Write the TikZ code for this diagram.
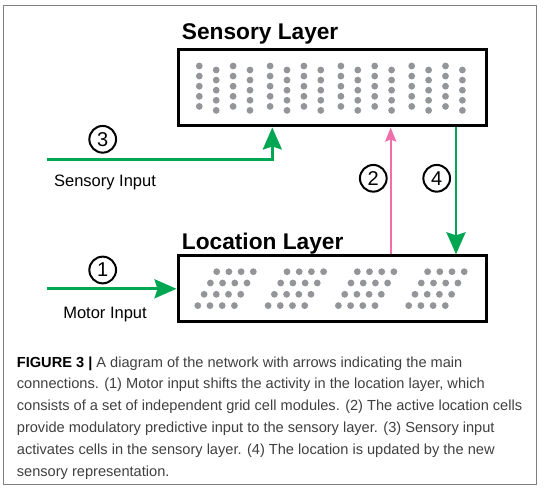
\documentclass[tikz,border=0pt]{standalone}
\usepackage{fontspec}
\setmainfont{Liberation Sans}
\usetikzlibrary{arrows.meta,positioning,calc}
\definecolor{igreen}{RGB}{0,166,81}
\definecolor{ipink}{RGB}{240,110,170}
\definecolor{dotgray}{RGB}{147,149,152}
\definecolor{framegray}{RGB}{128,128,128}
\definecolor{captext}{RGB}{64,64,64}

\begin{document}
\begin{tikzpicture}[x=1pt,y=-1pt,
  layer/.style={draw,line width=3pt,minimum width=308pt,inner sep=0pt},
  title/.style={anchor=base west,inner sep=0pt,font=\fontsize{22.7}{24}\selectfont\bfseries},
  num/.style={circle,draw,line width=2pt,minimum size=26.7pt,inner sep=0pt,font=\fontsize{20}{20}\selectfont},
  inlabel/.style={anchor=base,inner sep=0pt,font=\fontsize{16.5}{18}\selectfont},
  cell/.style={fill=dotgray},
  feed/.style={line width=2.8pt,igreen,-{Stealth[length=22pt,width=19pt,inset=3pt]}},
  predict/.style={line width=2.3pt,ipink,-{Stealth[length=14pt,width=11pt,inset=2pt]}}]
\useasboundingbox (0,0) rectangle (549,500);
\draw[framegray,line width=1pt] (3.5,5.3) rectangle (536,484.3);

% the two layers
\node (sens)[layer,minimum height=76pt] at (332,88) {};
\node (loc)[layer,minimum height=66pt] at (332,288.8) {};
\node (senstitle)[title] at (181.7,40) {Sensory Layer};
\node (loctitle)[title] at (181.7,249.3) {Location Layer};

% cells of the sensory layer
\foreach \g in {0,...,3}
  \foreach \c in {0,...,3}
    \foreach \r in {0,...,4}
      \fill[cell] ({199.3+70.8*\g+16.9*\c},{66+4*mod(\c,2)+10.1*\r}) circle[radius=3.4pt];

% grid cell modules
\foreach \g in {0,...,3}
  \foreach \r in {0,...,3}
    \foreach \c in {0,...,3}
      \fill[cell] ({216.7+70.3*\g-6.3*\r+12.2*\c},{271.7+11.3*\r}) circle[radius=3.4pt];

\coordinate (sinstart) at (46.7,159.3);
\coordinate (minstart) at (46.7,288.8);

\draw [feed] (sinstart) -| ([xshift=-59.7pt]sens.south);
\draw [feed] (minstart) -- (loc.west);
\draw [predict] ([xshift=58.7pt]loc.north) -- ([xshift=58.7pt]sens.south);
\draw [feed] ([xshift=124pt]sens.south) -- ([xshift=124pt]loc.north);

\node (n3)[num] at (102.7,139.3) {3};
\node (n1)[num] at (102.7,270) {1};
\node (n2)[num] at (373.3,178.3) {2};
\node (n4)[num] at (436.7,178.3) {4};

\node (sin)[inlabel] at (105,186.5) {Sensory Input};
\node (min)[inlabel] at (105,318.4) {Motor Input};

% caption (base = last line)
\node (caption)[anchor=base west,inner sep=0pt,align=left,text=captext,font=\fontsize{14.6}{21.8}\selectfont] at (16.7,476)
{{\color{black}\bfseries FIGURE 3 |} A diagram of the network with arrows indicating the main\\
connections. (1) Motor input shifts the activity in the location layer, which\\
consists of a set of independent grid cell modules. (2) The active location cells\\
provide modulatory predictive input to the sensory layer. (3) Sensory input\\
activates cells in the sensory layer. (4) The location is updated by the new\\
sensory representation.};
\end{tikzpicture}
\end{document}
